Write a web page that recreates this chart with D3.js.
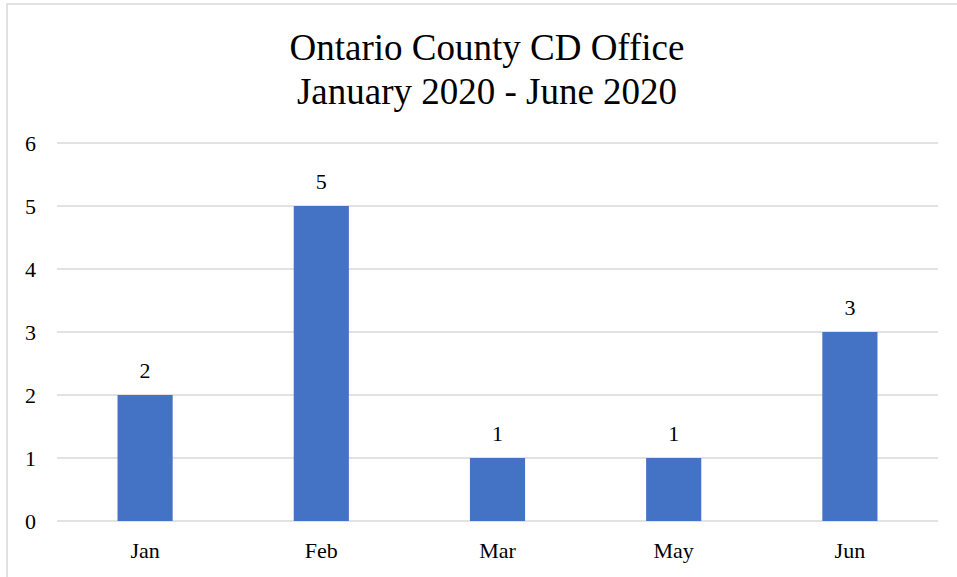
<!DOCTYPE html>
<html>
<head>
<meta charset="utf-8">
<script src="https://cdn.jsdelivr.net/npm/d3@7"></script>
<style>
  body { margin: 0; background: #fff; }
  svg text { font-family: "Liberation Serif", "Times New Roman", serif !important; fill: #000; }
</style>
</head>
<body>
<svg id="chart" width="957" height="577"></svg>
<script>
// Data
var months = ["Jan", "Feb", "Mar", "May", "Jun"];
var counts = [2, 5, 1, 1, 3];
var yTicks = [0, 1, 2, 3, 4, 5, 6];
var titleLines = ["Ontario County CD Office", "January 2020 - June 2020"];

var svg = d3.select("#chart");

// Ramme om diagrammet
svg.append("rect")
    .attr("x", 7).attr("y", 4)
    .attr("width", 980).attr("height", 600)
    .attr("fill", "#fff")
    .attr("stroke", "#d9d9d9")
    .attr("stroke-width", 1.5);

var plot = { left: 57, right: 938, top: 143, bottom: 521 };

var x = d3.scaleBand()
    .domain(months)
    .range([plot.left, plot.right])
    .padding(0);

var y = d3.scaleLinear()
    .domain([0, 6])
    .range([plot.bottom, plot.top]);

// Titel
svg.append("text")
    .attr("text-anchor", "middle")
    .style("font-size", "37px")
    .selectAll("tspan")
    .data(titleLines)
    .enter().append("tspan")
        .attr("x", 487)
        .attr("y", function(d, i) { return 60 + i * 44; })
        .text(function(d) { return d; });

// Gitterlinjer
svg.append("g")
    .selectAll("line")
    .data(yTicks)
    .enter().append("line")
        .attr("x1", plot.left).attr("x2", plot.right)
        .attr("y1", function(d) { return y(d); })
        .attr("y2", function(d) { return y(d); })
        .attr("stroke", "#d9d9d9")
        .attr("stroke-width", 1.5);

// Y-akse
var yAxis = svg.append("g")
    .attr("transform", "translate(" + (plot.left - 21) + ",0)")
    .call(d3.axisLeft(y).tickValues(yTicks).tickFormat(d3.format("d")).tickSize(0).tickPadding(0));
yAxis.select(".domain").remove();
yAxis.selectAll("text")
    .style("font-size", "22px")
    .attr("fill", "#000");

// X-akse
var xAxis = svg.append("g")
    .attr("transform", "translate(0," + plot.bottom + ")")
    .call(d3.axisBottom(x).tickSize(0).tickPadding(21));
xAxis.select(".domain").remove();
xAxis.selectAll("text")
    .style("font-size", "22px")
    .attr("fill", "#000");

// Søjler
var barW = x.bandwidth() * 0.313;
svg.append("g")
    .selectAll("rect")
    .data(months)
    .enter().append("rect")
        .attr("x", function(d) { return x(d) + x.bandwidth() / 2 - barW / 2; })
        .attr("y", function(d, i) { return y(counts[i]); })
        .attr("width", barW)
        .attr("height", function(d, i) { return y(0) - y(counts[i]); })
        .attr("fill", "#4472c4");

// Dataetiketter
svg.append("g")
    .selectAll("text")
    .data(months)
    .enter().append("text")
        .attr("x", function(d) { return x(d) + x.bandwidth() / 2; })
        .attr("y", function(d, i) { return y(counts[i]) - 17; })
        .attr("text-anchor", "middle")
        .style("font-size", "22px")
        .text(function(d, i) { return counts[i]; });
</script>
</body>
</html>
